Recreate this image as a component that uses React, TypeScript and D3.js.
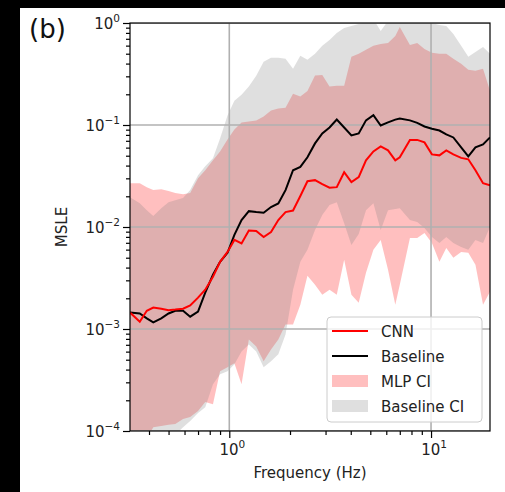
import { useEffect, useRef } from 'react';
import * as d3 from 'd3';

// Frequency axis (Hz) and MSLE values
const frequency = [0.322, 0.36, 0.39, 0.42, 0.46, 0.5, 0.54, 0.59, 0.64, 0.7, 0.76, 0.83, 0.9, 0.98, 1.06, 1.15, 1.25, 1.36, 1.48, 1.61, 1.75, 1.9, 2.07, 2.25, 2.44, 2.66, 2.89, 3.14, 3.41, 3.71, 4.03, 4.38, 4.76, 5.18, 5.63, 6.12, 6.65, 7.0, 7.86, 8.54, 9.28, 10.1, 11.0, 11.9, 12.9, 14.1, 15.3, 16.6, 18.1, 19.6];

const cnnMsle = [1.45e-3, 1.18e-3, 1.51e-3, 1.62e-3, 1.58e-3, 1.53e-3, 1.55e-3, 1.58e-3, 1.70e-3, 2.03e-3, 2.43e-3, 3.25e-3, 4.56e-3, 5.70e-3, 7.47e-3, 6.90e-3, 9.24e-3, 9.14e-3, 7.98e-3, 8.93e-3, 1.17e-2, 1.40e-2, 1.45e-2, 2.01e-2, 2.81e-2, 2.88e-2, 2.63e-2, 2.43e-2, 2.46e-2, 3.44e-2, 2.75e-2, 3.08e-2, 4.51e-2, 5.51e-2, 6.17e-2, 5.64e-2, 4.51e-2, 4.82e-2, 7.14e-2, 7.14e-2, 6.75e-2, 5.15e-2, 5.04e-2, 5.64e-2, 5.15e-2, 4.76e-2, 4.61e-2, 3.60e-2, 2.69e-2, 2.57e-2];

const baselineMsle = [1.45e-3, 1.42e-3, 1.27e-3, 1.16e-3, 1.27e-3, 1.42e-3, 1.51e-3, 1.51e-3, 1.32e-3, 1.48e-3, 2.27e-3, 3.40e-3, 4.56e-3, 5.58e-3, 8.36e-3, 1.17e-2, 1.43e-2, 1.40e-2, 1.38e-2, 1.57e-2, 1.70e-2, 2.30e-2, 3.60e-2, 3.88e-2, 4.82e-2, 6.60e-2, 8.27e-2, 9.46e-2, 0.113, 9.46e-2, 7.90e-2, 8.27e-2, 0.111, 0.125, 9.89e-2, 0.106, 0.113, 0.116, 0.111, 0.105, 9.67e-2, 9.18e-2, 8.83e-2, 8.08e-2, 7.55e-2, 6.03e-2, 4.93e-2, 6.03e-2, 6.45e-2, 7.55e-2];

const mlpLower = [6.67e-5, 7.46e-5, 8.35e-5, 1.09e-4, 1.12e-4, 1.15e-4, 1.17e-4, 1.31e-4, 1.37e-4, 1.57e-4, 1.92e-4, 1.83e-4, 3.85e-4, 4.21e-4, 4.61e-4, 2.88e-4, 7.90e-4, 6.75e-4, 4.82e-4, 6.31e-4, 7.90e-4, 1.11e-3, 1.11e-3, 1.73e-3, 3.32e-3, 2.72e-3, 2.17e-3, 2.43e-3, 2.17e-3, 4.77e-3, 2.17e-3, 1.81e-3, 3.56e-3, 5.97e-3, 7.47e-3, 3.80e-3, 1.73e-3, 2.72e-3, 7.82e-3, 7.82e-3, 8.73e-3, 6.98e-3, 4.56e-3, 6.24e-3, 4.99e-3, 5.70e-3, 5.58e-3, 4.26e-3, 1.73e-3, 2.32e-3];
const mlpUpper = [2.69e-2, 2.69e-2, 2.46e-2, 2.30e-2, 2.35e-2, 2.25e-2, 2.15e-2, 2.10e-2, 2.15e-2, 3.01e-2, 3.60e-2, 4.51e-2, 5.51e-2, 7.22e-2, 9.04e-2, 0.106, 0.108, 0.111, 0.121, 0.139, 0.145, 0.148, 0.203, 0.190, 0.215, 0.305, 0.31, 0.238, 0.243, 0.243, 0.466, 0.499, 0.546, 0.597, 0.624, 0.638, 0.747, 0.914, 0.610, 0.638, 0.557, 0.510, 0.499, 0.499, 0.445, 0.398, 0.348, 0.340, 0.356, 0.217];

const baselineLower = [6.67e-5, 6.67e-5, 6.67e-5, 7.46e-5, 8.35e-5, 8.35e-5, 9.14e-5, 1.09e-4, 1.25e-4, 1.50e-4, 1.71e-4, 2.88e-4, 3.60e-4, 3.85e-4, 4.51e-4, 6.03e-4, 7.06e-4, 6.03e-4, 4.21e-4, 4.82e-4, 5.64e-4, 8.84e-4, 2.43e-3, 4.56e-3, 5.97e-3, 9.35e-3, 1.31e-2, 1.64e-2, 1.75e-2, 1.09e-2, 6.67e-3, 8.55e-3, 1.46e-2, 1.71e-2, 9.35e-3, 1.46e-2, 1.50e-2, 1.53e-2, 1.17e-2, 1.12e-2, 9.77e-3, 7.98e-3, 6.98e-3, 7.98e-3, 6.98e-3, 6.38e-3, 5.97e-3, 7.47e-3, 6.98e-3, 1.00e-2];
const baselineUpper = [1.96e-2, 1.71e-2, 1.46e-2, 1.28e-2, 1.53e-2, 1.75e-2, 1.83e-2, 1.92e-2, 2.30e-2, 3.21e-2, 3.94e-2, 4.71e-2, 7.38e-2, 0.124, 0.173, 0.198, 0.238, 0.304, 0.417, 0.456, 0.456, 0.445, 0.356, 0.477, 0.436, 0.499, 0.597, 0.683, 0.798, 0.894, 0.935, 0.978, 1.02, 1.09, 0.836, 1.05, 1.09, 1.09, 1.09, 1.09, 1.07, 1.00, 0.956, 0.935, 0.781, 0.597, 0.466, 0.521, 0.583, 0.499];

const yTickExponents = [0, -1, -2, -3, -4];
const xTickExponents = [0, 1];
const legendLabels = ['CNN', 'Baseline', 'MLP CI', 'Baseline CI'];

const FONT = 'DejaVu Sans, sans-serif';

export default function App() {
  const svgRef = useRef<SVGSVGElement>(null);

  useEffect(() => {
    if (!svgRef.current) return;
    document.body.style.margin = '0';

    const svg = d3.select(svgRef.current);
    svg.selectAll('*').remove();

    const width = 505;
    const height = 492;
    const plot = { left: 130, right: 490, top: 23, bottom: 431 };

    const x = d3.scaleLog().domain([0.322, 19.6]).range([plot.left, plot.right]);
    const y = d3.scaleLog().domain([1e-4, 1]).range([plot.bottom, plot.top]);

    // black frame around the panel like the cropped figure
    svg.append('rect').attr('width', width).attr('height', height).attr('fill', '#000');
    svg.append('rect').attr('x', 20).attr('y', 8).attr('width', width - 20).attr('height', height - 8).attr('fill', '#fff');

    svg.append('defs').append('clipPath').attr('id', 'plot-clip')
      .append('rect')
      .attr('x', plot.left).attr('y', plot.top)
      .attr('width', plot.right - plot.left).attr('height', plot.bottom - plot.top);

    const idx = d3.range(frequency.length);
    const band = (lo: number[], hi: number[]) => d3.area<number>()
      .x(i => x(frequency[i]))
      .y0(i => y(lo[i]))
      .y1(i => y(hi[i]))(idx) || '';
    const line = (vals: number[]) => d3.line<number>()
      .x(i => x(frequency[i]))
      .y(i => y(vals[i]))(idx) || '';

    const g = svg.append('g').attr('clip-path', 'url(#plot-clip)');

    // CI bands
    g.append('path').attr('d', band(mlpLower, mlpUpper)).attr('fill', 'red').attr('fill-opacity', 0.25);
    g.append('path').attr('d', band(baselineLower, baselineUpper)).attr('fill', '#808080').attr('fill-opacity', 0.25);

    // grid
    yTickExponents.forEach(e => {
      g.append('line')
        .attr('x1', plot.left).attr('x2', plot.right)
        .attr('y1', y(Math.pow(10, e))).attr('y2', y(Math.pow(10, e)))
        .attr('stroke', '#b0b0b0').attr('stroke-width', 1.6);
    });
    xTickExponents.forEach(e => {
      g.append('line')
        .attr('x1', x(Math.pow(10, e))).attr('x2', x(Math.pow(10, e)))
        .attr('y1', plot.top).attr('y2', plot.bottom)
        .attr('stroke', '#b0b0b0').attr('stroke-width', 1.6);
    });

    // lines
    g.append('path').attr('d', line(baselineMsle)).attr('fill', 'none').attr('stroke', '#000').attr('stroke-width', 2);
    g.append('path').attr('d', line(cnnMsle)).attr('fill', 'none').attr('stroke', 'red').attr('stroke-width', 2);

    // ticks via d3 axes
    const yMinor: number[] = [];
    for (let e = -4; e < 0; e++) for (let k = 2; k <= 9; k++) yMinor.push(k * Math.pow(10, e));
    const xMinor = [0.4, 0.5, 0.6, 0.7, 0.8, 0.9, 2, 3, 4, 5, 6, 7, 8, 9];

    const styleAxis = (sel: d3.Selection<SVGGElement, unknown, null, undefined>) => {
      sel.select('.domain').remove();
      sel.selectAll('line').attr('stroke', '#000').attr('stroke-width', 1.2);
    };

    svg.append('g').attr('transform', `translate(${plot.left},0)`)
      .call(d3.axisLeft(y).tickValues(yTickExponents.map(e => Math.pow(10, e))).tickSize(7).tickFormat(() => ''))
      .call(styleAxis);
    svg.append('g').attr('transform', `translate(${plot.left},0)`)
      .call(d3.axisLeft(y).tickValues(yMinor).tickSize(4).tickFormat(() => ''))
      .call(styleAxis);
    svg.append('g').attr('transform', `translate(0,${plot.bottom})`)
      .call(d3.axisBottom(x).tickValues(xTickExponents.map(e => Math.pow(10, e))).tickSize(7).tickFormat(() => ''))
      .call(styleAxis);
    svg.append('g').attr('transform', `translate(0,${plot.bottom})`)
      .call(d3.axisBottom(x).tickValues(xMinor).tickSize(4).tickFormat(() => ''))
      .call(styleAxis);

    // frame
    svg.append('rect')
      .attr('x', plot.left).attr('y', plot.top)
      .attr('width', plot.right - plot.left).attr('height', plot.bottom - plot.top)
      .attr('fill', 'none').attr('stroke', '#000').attr('stroke-width', 1.2);

    // tick labels with superscript exponents
    const sup = (e: number) => (e < 0 ? '\u2212' + Math.abs(e) : String(e));
    yTickExponents.forEach(e => {
      const t = svg.append('text')
        .attr('x', plot.left - 10)
        .attr('y', y(Math.pow(10, e)) + 5.5)
        .attr('text-anchor', 'end')
        .attr('font-family', FONT).attr('font-size', 15).attr('fill', '#222');
      t.append('tspan').text('10');
      t.append('tspan').attr('dy', -7).attr('font-size', 10.5).text(sup(e));
    });
    xTickExponents.forEach(e => {
      const t = svg.append('text')
        .attr('x', x(Math.pow(10, e)) + 3)
        .attr('y', plot.bottom + 24)
        .attr('text-anchor', 'middle')
        .attr('font-family', FONT).attr('font-size', 15).attr('fill', '#222');
      t.append('tspan').text('10');
      t.append('tspan').attr('dy', -7).attr('font-size', 10.5).text(sup(e));
    });

    // axis labels
    svg.append('text')
      .attr('x', (plot.left + plot.right) / 2)
      .attr('y', 478)
      .attr('text-anchor', 'middle')
      .attr('font-family', FONT).attr('font-size', 15).attr('fill', '#222')
      .text('Frequency (Hz)');
    svg.append('text')
      .attr('transform', `translate(67,${(plot.top + plot.bottom) / 2}) rotate(-90)`)
      .attr('text-anchor', 'middle')
      .attr('font-family', FONT).attr('font-size', 15).attr('fill', '#222')
      .text('MSLE');

    // panel tag
    svg.append('text')
      .attr('x', 29).attr('y', 38)
      .attr('font-family', FONT).attr('font-size', 26).attr('fill', '#111')
      .text('(b)');

    // legend
    const legend = svg.append('g').attr('transform', 'translate(327,317)');
    legend.append('rect')
      .attr('width', 155).attr('height', 105).attr('rx', 4)
      .attr('fill', '#fff').attr('fill-opacity', 0.8)
      .attr('stroke', '#cccccc').attr('stroke-width', 1);
    legendLabels.forEach((label, i) => {
      const cy = 14 + i * 25;
      const item = legend.append('g').attr('transform', `translate(0,${cy})`);
      if (i < 2) {
        item.append('line').attr('x1', 5).attr('x2', 41).attr('y1', 0).attr('y2', 0)
          .attr('stroke', i === 0 ? 'red' : '#000').attr('stroke-width', 2);
      } else {
        item.append('rect').attr('x', 5).attr('y', -6).attr('width', 36).attr('height', 12)
          .attr('fill', i === 2 ? 'red' : '#808080').attr('fill-opacity', 0.25);
      }
      item.append('text')
        .attr('x', 54).attr('y', 5.5)
        .attr('font-family', FONT).attr('font-size', 15).attr('fill', '#222')
        .text(label);
    });
  }, []);

  return <svg ref={svgRef} width={505} height={492} style={{ display: 'block' }} />;
}
